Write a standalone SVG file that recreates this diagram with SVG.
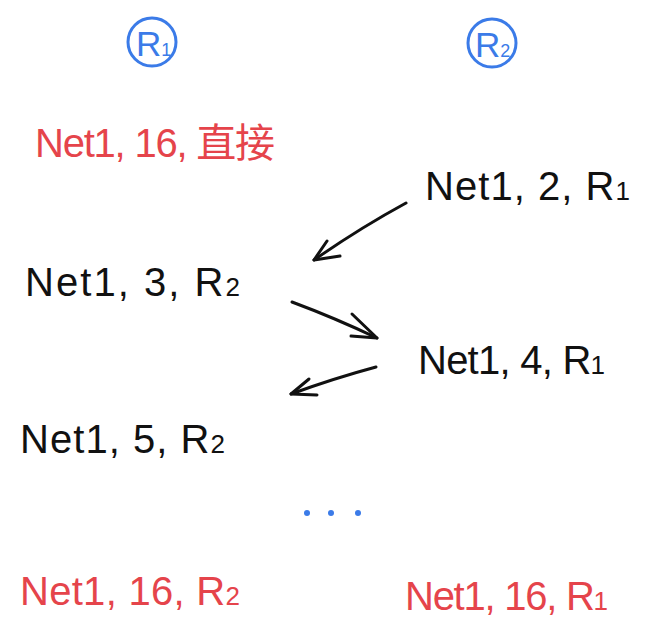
<svg xmlns="http://www.w3.org/2000/svg" width="658" height="640" viewBox="0 0 658 640">
<style>
.t{font-family:"Liberation Sans","Noto Sans CJK SC",sans-serif;font-size:40px;}
.k{fill:#111;}
.r{fill:#e5444b;}
.b{fill:#3b7be8;}
.sub{font-size:26px;}
.c{fill:none;stroke:#3b7be8;stroke-width:3;}
.a{fill:none;stroke:#111;stroke-width:3;stroke-linecap:round;stroke-linejoin:round;}
</style>
<rect width="658" height="640" fill="#fff"/>
<g id="r1"><circle class="c" cx="152" cy="42" r="24"/><text class="t b" x="136" y="56" style="font-size:35px">R<tspan style="font-size:18px">1</tspan></text></g>
<g id="r2"><circle class="c" cx="492" cy="43" r="24"/><text class="t b" x="475" y="57" style="font-size:35px">R<tspan style="font-size:18px">2</tspan></text></g>
<g id="n16direct"><text class="t r" x="35" y="157" textLength="240" lengthAdjust="spacing">Net1, 16, 直接</text></g>
<g id="n2"><text class="t k" x="425" y="200" textLength="205" lengthAdjust="spacing">Net1, 2, R<tspan class="sub">1</tspan></text></g>
<g id="n3"><text class="t k" x="25" y="296" textLength="215" lengthAdjust="spacing">Net1, 3, R<tspan class="sub">2</tspan></text></g>
<g id="n4"><text class="t k" x="418" y="374" textLength="187" lengthAdjust="spacing">Net1, 4, R<tspan class="sub">1</tspan></text></g>
<g id="n5"><text class="t k" x="20" y="453" textLength="205" lengthAdjust="spacing">Net1, 5, R<tspan class="sub">2</tspan></text></g>
<g id="dots"><circle class="b" cx="307" cy="513" r="3"/><circle class="b" cx="331" cy="513" r="3"/><circle class="b" cx="358" cy="513" r="3"/></g>
<g id="n16r2"><text class="t r" x="20" y="605" textLength="220" lengthAdjust="spacing">Net1, 16, R<tspan class="sub">2</tspan></text></g>
<g id="n16r1"><text class="t r" x="405" y="610" textLength="203" lengthAdjust="spacing">Net1, 16, R<tspan class="sub">1</tspan></text></g>
<g id="connectors">
<path class="a" d="M406 203 Q360 228 314 260"/><path class="a" d="M327 241 L314 260 L340 256"/>
<path class="a" d="M292 302 Q335 318 377 338"/><path class="a" d="M352 314 L377 338 L351 336"/>
<path class="a" d="M376 367 Q335 378 291 394"/><path class="a" d="M309 379 L291 394 L317 395"/>
</g>
</svg>
